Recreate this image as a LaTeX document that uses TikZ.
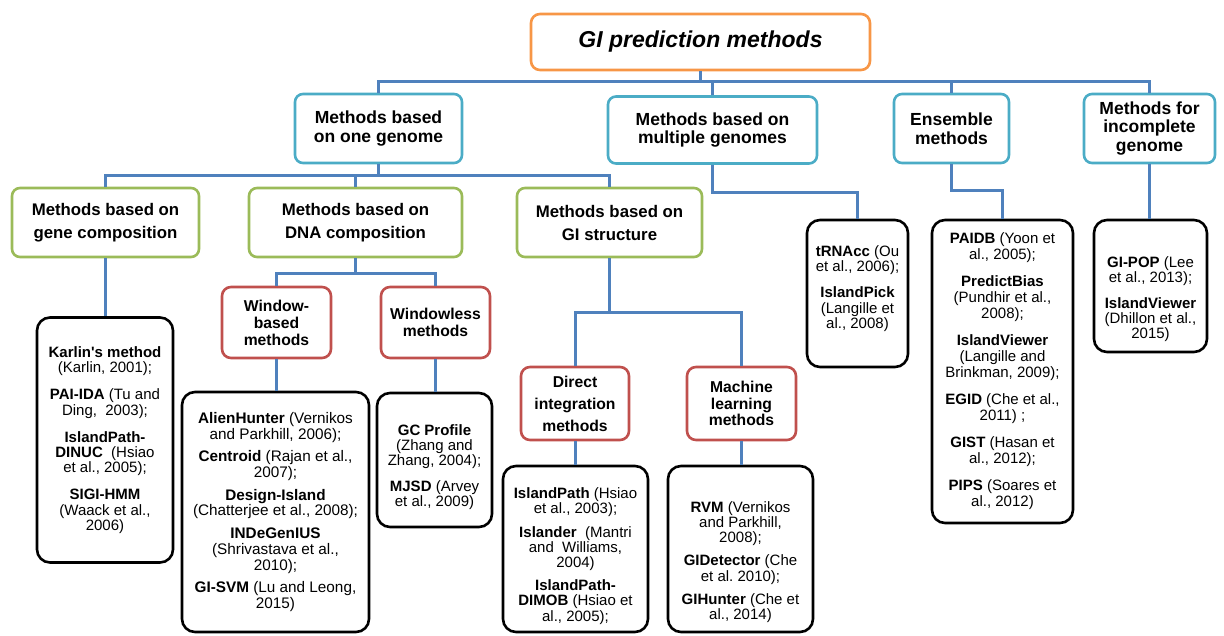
\documentclass[tikz,border=0pt]{standalone}
\usepackage{fontspec}
\setmainfont{Liberation Sans}
\frenchspacing
\definecolor{orangec}{HTML}{F79646}
\definecolor{cyanc}{HTML}{4BACC6}
\definecolor{greenc}{HTML}{9BBB59}
\definecolor{redc}{HTML}{C0504D}
\definecolor{connc}{HTML}{4F81BD}
\newcommand{\tstrut}[1]{\rule{0pt}{#1}}
\newcommand{\bstrut}[1]{\rule[-#1]{0pt}{1pt}}
\begin{document}
\begin{tikzpicture}[x=1pt,y=-1pt,
  basebox/.style={draw, line width=2.6pt, inner sep=0pt, align=center, fill=white},
  topbox/.style={basebox, draw=orangec, rounded corners=9pt, font=\fontsize{23}{25}\selectfont\bfseries\itshape},
  cyanbox/.style={basebox, draw=cyanc, rounded corners=8pt, font=\fontsize{17.5}{18.5}\selectfont\bfseries},
  greenbox/.style={basebox, draw=greenc, rounded corners=8pt, font=\fontsize{16.8}{23}\selectfont\bfseries},
  redbox/.style={basebox, draw=redc, rounded corners=9pt, font=\fontsize{15.7}{17}\selectfont\bfseries},
  blkbox/.style={basebox, draw=black, rounded corners=13pt, font=\fontsize{15}{15.2}\selectfont},
  conn/.style={draw=connc, line width=3pt}]
\useasboundingbox (0,0) rectangle (1224,635);

% level 1
\node[topbox, minimum width=339, minimum height=56] (top) at (700.5,42) {GI prediction methods};

% level 2
\node[cyanbox, minimum width=167, minimum height=69] (one) at (378.5,128.5) {Methods based\\on one genome};
\node[cyanbox, minimum width=209, minimum height=67] (multi) at (712.5,130) {Methods based on\\multiple genomes};
\node[cyanbox, minimum width=115, minimum height=69] (ens) at (951.5,128.5) {Ensemble\\methods};
\node[cyanbox, minimum width=131, minimum height=69] (inc) at (1149.5,128.5) {Methods for\\incomplete\\genome};

% level 3
\node[greenbox, minimum width=187, minimum height=69] (gene) at (105.5,222.5) {Methods based on\\gene composition};
\node[greenbox, minimum width=213, minimum height=69] (dna) at (355.5,222.5) {Methods based on\\DNA composition};
\node[greenbox, minimum width=185, minimum height=69] (gis) at (609.5,222.5) {Methods based on\\GI structure};

% level 4
\node[redbox, minimum width=109, minimum height=71] (wb) at (276.5,322.5) {Window-\\based\\methods};
\node[redbox, minimum width=109, minimum height=71] (wl) at (435.5,322.5) {Windowless\\methods};
\node[redbox, minimum width=108, minimum height=73, font=\fontsize{15.7}{22}\selectfont\bfseries] (direct) at (575,403.5) {Direct\\integration\\methods};
\node[redbox, minimum width=109, minimum height=73, font=\fontsize{15.7}{16.5}\selectfont\bfseries] (machine) at (741.5,403.5) {Machine\\learning\\methods};

% lists
\node[blkbox, minimum width=136, minimum height=245] (karlin) at (105,440)
 {\textbf{Karlin\textquotesingle s method}\\(Karlin, 2001);\\[12pt]
  \textbf{PAI-IDA} (Tu and\\Ding,~ 2003);\\[12pt]
  \textbf{IslandPath-}\\\textbf{DINUC}~ (Hsiao\\et al., 2005);\\[12pt]
  \textbf{SIGI-HMM}\\(Waack et al.,\\2006)};
\node[blkbox, minimum width=187, minimum height=240, font=\fontsize{15.3}{15.7}\selectfont] (alien) at (275.5,512)
 {\textbf{AlienHunter} (Vernikos\\and Parkhill, 2006);\\[7pt]
  \textbf{Centroid} (Rajan et al.,\\2007);\\[7pt]
  \textbf{Design-Island}\\(Chatterjee et al., 2008);\\[7pt]
  \textbf{INDeGenIUS}\\(Shrivastava et al.,\\2010);\\[7pt]
  \textbf{GI-SVM} (Lu and Leong,\\2015)};
\node[blkbox, minimum width=115, minimum height=134] (gc) at (434.5,460)
 {\tstrut{25pt}\textbf{GC Profile}\\(Zhang and\\Zhang, 2004);\\[10pt]
  \textbf{MJSD} (Arvey\\et al., 2009)};
\node[blkbox, minimum width=145, minimum height=166] (ip) at (575.5,549)
 {\tstrut{25pt}\textbf{IslandPath} (Hsiao\\et al., 2003);\\[8pt]
  \textbf{Islander}~ (Mantri\\and~ Williams,\\2004)\\[8pt]
  \textbf{IslandPath-}\\\textbf{DIMOB} (Hsiao et\\al., 2005);};
\node[blkbox, minimum width=145, minimum height=166] (rvm) at (740.5,549)
 {\tstrut{37pt}\textbf{RVM} (Vernikos\\and Parkhill,\\2008);\\[8pt]
  \textbf{GIDetector} (Che\\et al. 2010);\\[8pt]
  \textbf{GIHunter} (Che et\\al., 2014)};
\node[blkbox, minimum width=101, minimum height=147] (trna) at (857.5,293.5)
 {\textbf{tRNAcc} (Ou\\et al., 2006);\\[11pt]
  \textbf{IslandPick}\\(Langille et\\al., 2008)\bstrut{13pt}};
\node[blkbox, minimum width=141, minimum height=303, font=\fontsize{15}{16}\selectfont] (enslist) at (1002.5,371.5)
 {\textbf{PAIDB} (Yoon et\\al., 2005);\\[11pt]
  \textbf{PredictBias}\\(Pundhir et al.,\\2008);\\[11pt]
  \textbf{IslandViewer}\\(Langille and\\Brinkman, 2009);\\[11pt]
  \textbf{EGID} (Che et al.,\\2011) ;\\[11pt]
  \textbf{GIST} (Hasan et\\al., 2012);\\[11pt]
  \textbf{PIPS} (Soares et\\al., 2012)};
\node[blkbox, minimum width=113, minimum height=132] (inclist) at (1150.5,286)
 {\tstrut{37pt}\textbf{GI-POP} (Lee\\et al., 2013);\\[11pt]
  \textbf{IslandViewer}\\(Dhillon et al.,\\2015)};

% connectors
\coordinate (b1) at (700.5,81);
\coordinate (b2) at (378.5,175);
\coordinate (b3) at (355.5,273);
\coordinate (b4) at (609.5,312);
\coordinate (m1) at (712.5,192);
\coordinate (e1) at (951.5,190);

\draw[conn] (top.south) -- (b1);
\draw[conn] (one.north) |- (b1);
\draw[conn] (multi.north) |- (b1);
\draw[conn] (ens.north) |- (b1);
\draw[conn] (inc.north) |- (b1);

\draw[conn] (one.south) -- (b2);
\draw[conn] (gene.north) |- (b2);
\draw[conn] (dna.north) |- (b2);
\draw[conn] (gis.north) |- (b2);

\draw[conn] (multi.south) -- (m1) -| (trna.north);
\draw[conn] (ens.south) -- (e1) -| (enslist.north);
\draw[conn] (inc.south) -- (inc.south |- inclist.north);

\draw[conn] (gene.south) -- (gene.south |- karlin.north);
\draw[conn] (dna.south) -- (b3);
\draw[conn] (wb.north) |- (b3);
\draw[conn] (wl.north) |- (b3);
\draw[conn] (wb.south) -- (wb.south |- alien.north);
\draw[conn] (wl.south) -- (wl.south |- gc.north);

\draw[conn] (gis.south) -- (b4);
\draw[conn] (direct.north) |- (b4);
\draw[conn] (machine.north) |- (b4);
\draw[conn] (direct.south) -- (direct.south |- ip.north);
\draw[conn] (machine.south) -- (machine.south |- rvm.north);
\end{tikzpicture}
\end{document}
